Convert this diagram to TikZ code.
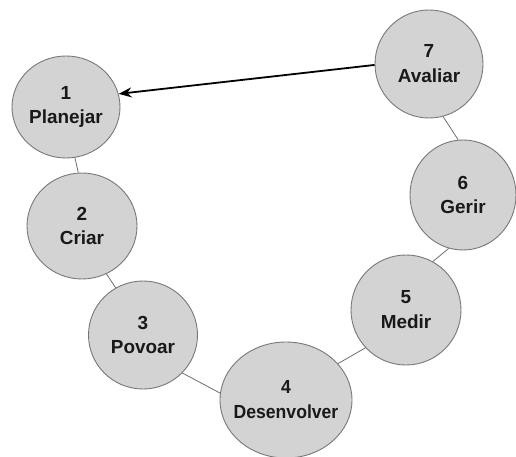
\documentclass[tikz,border=0pt]{standalone}
\usepackage{fontspec}
\setmainfont{Liberation Sans}
\usetikzlibrary{shapes.geometric,arrows.meta}
\definecolor{stagefill}{RGB}{211,211,211}
\definecolor{stageline}{RGB}{120,120,120}
\definecolor{linkline}{RGB}{110,110,110}
\begin{document}
\begin{tikzpicture}[x=1bp,y=-1bp,
  stage/.style={ellipse,draw=stageline,line width=0.9bp,fill=stagefill,inner sep=0pt},
  stagetext/.style={font=\bfseries\fontsize{19}{25}\selectfont,align=center,text=black!90},
  link/.style={draw=linkline,line width=0.8bp},
  back/.style={draw=black,line width=1.8bp,-{Stealth[length=13bp,width=10bp]}}]
\useasboundingbox (0,0) rectangle (516,457);
% the seven stages
\node[stage,minimum width=108bp,minimum height=102bp] (s1) at (66,107) {};
\node[stage,minimum width=110bp,minimum height=106bp] (s2) at (82,226) {};
\node[stage,minimum width=109bp,minimum height=108bp] (s3) at (143,335) {};
\node[stage,minimum width=132bp,minimum height=116bp] (s4) at (286,400) {};
\node[stage,minimum width=110bp,minimum height=110bp] (s5) at (406,310) {};
\node[stage,minimum width=106bp,minimum height=110bp] (s6) at (463,195) {};
\node[stage,minimum width=108bp,minimum height=108bp] (s7) at (429,64) {};
% stage labels
\node[stagetext] (t1) at (s1.center) {1\\Planejar};
\node[stagetext] (t2) at (s2.center) {2\\Criar};
\node[stagetext] (t3) at (s3.center) {3\\Povoar};
\node[stagetext,xscale=0.93] (t4) at (s4.center) {4\\Desenvolver};
\node[stagetext] (t5) at (s5.center) {5\\Medir};
\node[stagetext] (t6) at (s6.center) {6\\Gerir};
\node[stagetext] (t7) at (s7.center) {7\\Avaliar};
% links between consecutive stages
\draw[link] (s1.-80) -- (s2.94);
\draw[link] (s2.-63) -- (s3.120);
\draw[link] (s3.-44) -- (s4.174);
\draw[link] (s4.35) -- (s5.223);
\draw[link] (s5.61) -- (s6.-105);
\draw[link] (s6.95) -- (s7.-75);
% return to the start
\draw[back] (s7.181) -- (s1.14);
\end{tikzpicture}
\end{document}
